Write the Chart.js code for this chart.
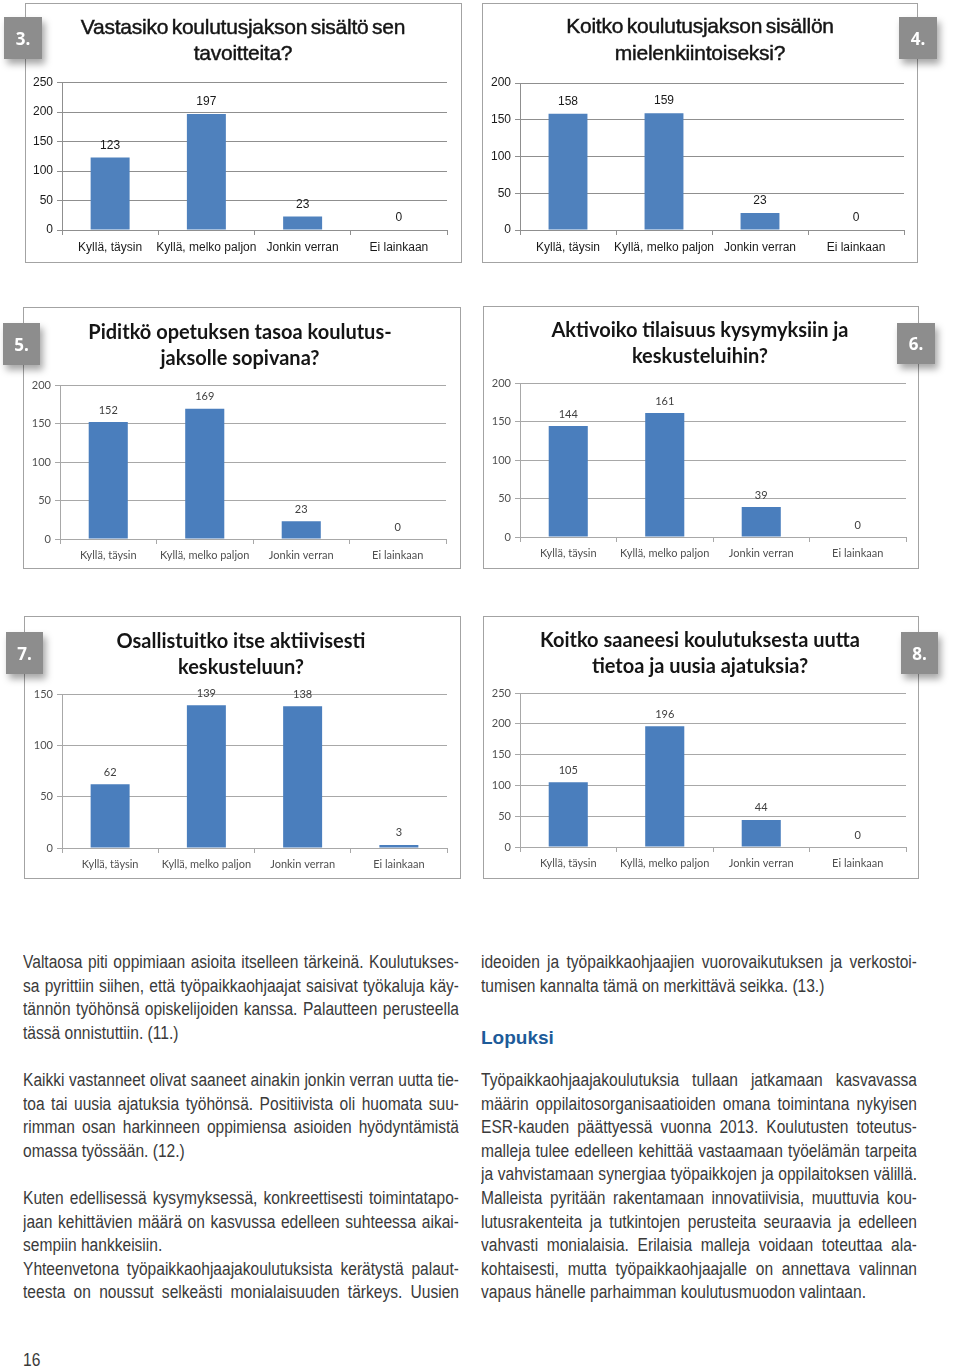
<!DOCTYPE html>
<html>
<head>
<meta charset="utf-8">
<script src="https://cdn.jsdelivr.net/npm/chart.js@4.4.1/dist/chart.umd.min.js"></script>
<style>
  body { margin: 0; background: #fff; width: 960px; height: 1370px; position: relative; overflow: hidden; }
  .box { position: absolute; border: 1px solid #a3a3a3; box-sizing: border-box; background: #fff; }
  .box canvas { position: absolute; left: 0; top: 0; }
  .title { position: absolute; text-align: center; color: #151515; white-space: nowrap; }
  .t1 { font-family: "Liberation Sans", Arial, sans-serif; font-size: 21px; letter-spacing: -0.25px; word-spacing: -2px; -webkit-text-stroke: 0.45px #151515; }
  .t2 { font-family: Lato, "Open Sans", sans-serif; font-weight: 700; font-size: 20px; }
  .badge { position: absolute; background: #8d8d8d; color: #fff; font-family: "Open Sans", sans-serif; font-weight: 700; font-size: 17px;
           display: flex; align-items: center; justify-content: center; box-shadow: 3px 5px 7px rgba(0,0,0,0.35); }
  .col { position: absolute; width: 436px; }
  .inner { transform-origin: 0 0; font-family: "Liberation Sans", sans-serif; font-size: 18px; color: #3a3a3a; line-height: 23.6px; }
  .inner div { height: 23.6px; white-space: nowrap; }
  .inner .j { text-align: justify; text-align-last: justify; white-space: normal; overflow: hidden; }
  .head { position: absolute; font-family: "Liberation Sans", sans-serif; font-weight: 700; font-size: 19px; color: #1d5b99; }
</style>
</head>
<body>

<div class="box" style="left:25px;top:3px;width:437px;height:260px"><canvas id="c3"></canvas></div>
<div class="box" style="left:482px;top:3px;width:436px;height:260px"><canvas id="c4"></canvas></div>
<div class="box" style="left:23px;top:307px;width:438px;height:262px"><canvas id="c5"></canvas></div>
<div class="box" style="left:483px;top:306px;width:436px;height:263px"><canvas id="c6"></canvas></div>
<div class="box" style="left:24px;top:616px;width:437px;height:263px"><canvas id="c7"></canvas></div>
<div class="box" style="left:483px;top:616px;width:436px;height:263px"><canvas id="c8"></canvas></div>

<div class="title t1" style="left:43px;top:14px;width:400px;line-height:26px">Vastasiko koulutusjakson sisältö sen<br>tavoitteita?</div>
<div class="title t1" style="left:500px;top:12px;width:400px;line-height:27px">Koitko koulutusjakson sisällön<br>mielenkiintoiseksi?</div>
<div class="title t2" style="left:40px;top:318px;width:400px;line-height:26px">Piditkö opetuksen tasoa koulutus-<br>jaksolle sopivana?</div>
<div class="title t2" style="left:500px;top:316px;width:400px;line-height:26px">Aktivoiko tilaisuus kysymyksiin ja<br>keskusteluihin?</div>
<div class="title t2" style="left:41px;top:627px;width:400px;line-height:26px">Osallistuitko itse aktiivisesti<br>keskusteluun?</div>
<div class="title t2" style="left:500px;top:626px;width:400px;line-height:26px">Koitko saaneesi koulutuksesta uutta<br>tietoa ja uusia ajatuksia?</div>

<div class="badge" style="left:4px;top:17px;width:38px;height:42px">3.</div>
<div class="badge" style="left:899px;top:17px;width:38px;height:42px">4.</div>
<div class="badge" style="left:3px;top:323px;width:37px;height:42px">5.</div>
<div class="badge" style="left:897px;top:323px;width:38px;height:41px">6.</div>
<div class="badge" style="left:6px;top:632px;width:37px;height:42px">7.</div>
<div class="badge" style="left:901px;top:632px;width:37px;height:42px">8.</div>

<div class="col" style="left:23px;top:951px"><div class="inner">
  <div class="j">Valtaosa piti oppimiaan asioita itselleen tärkeinä. Koulutukses-</div>
  <div class="j">sa pyrittiin siihen, että työpaikkaohjaajat saisivat työkaluja käy-</div>
  <div class="j">tännön työhönsä opiskelijoiden kanssa. Palautteen perusteella</div>
  <div>tässä onnistuttiin. (11.)</div>
  <div></div>
  <div class="j">Kaikki vastanneet olivat saaneet ainakin jonkin verran uutta tie-</div>
  <div class="j">toa tai uusia ajatuksia työhönsä. Positiivista oli huomata suu-</div>
  <div class="j">rimman osan harkinneen oppimiensa asioiden hyödyntämistä</div>
  <div>omassa työssään. (12.)</div>
  <div></div>
  <div class="j">Kuten edellisessä kysymyksessä, konkreettisesti toimintatapo-</div>
  <div class="j">jaan kehittävien määrä on kasvussa edelleen suhteessa aikai-</div>
  <div>sempiin hankkeisiin.</div>
  <div class="j">Yhteenvetona työpaikkaohjaajakoulutuksista kerätystä palaut-</div>
  <div class="j">teesta on noussut selkeästi monialaisuuden tärkeys. Uusien</div>
</div></div>

<div class="col" style="left:481px;top:951px"><div class="inner">
  <div class="j">ideoiden ja työpaikkaohjaajien vuorovaikutuksen ja verkostoi-</div>
  <div>tumisen kannalta tämä on merkittävä seikka. (13.)</div>
</div></div>
<div class="head" style="left:481px;top:1027px">Lopuksi</div>
<div class="col" style="left:481px;top:1069px"><div class="inner">
  <div class="j">Työpaikkaohjaajakoulutuksia tullaan jatkamaan kasvavassa</div>
  <div class="j">määrin oppilaitosorganisaatioiden omana toimintana nykyisen</div>
  <div class="j">ESR-kauden päättyessä vuonna 2013. Koulutusten toteutus-</div>
  <div class="j">malleja tulee edelleen kehittää vastaamaan työelämän tarpeita</div>
  <div class="j">ja vahvistamaan synergiaa työpaikkojen ja oppilaitoksen välillä.</div>
  <div class="j">Malleista pyritään rakentamaan innovatiivisia, muuttuvia kou-</div>
  <div class="j">lutusrakenteita ja tutkintojen perusteita seuraavia ja edelleen</div>
  <div class="j">vahvasti monialaisia. Erilaisia malleja voidaan toteuttaa ala-</div>
  <div class="j">kohtaisesti, mutta työpaikkaohjaajalle on annettava valinnan</div>
  <div>vapaus hänelle parhaimman koulutusmuodon valintaan.</div>
</div></div>

<div class="col" style="left:23px;top:1349px"><div class="inner"><div>16</div></div></div>

<script>
// tekstin tiivistys: kapea kirjasin puuttuu, joten rivit puristetaan vaakasuunnassa
(function() {
    var leveys = 436;
    var mitta = document.createElement('span');
    mitta.style.cssText = 'position:absolute;visibility:hidden;white-space:nowrap;font-family:"Liberation Sans";font-size:18px';
    document.body.appendChild(mitta);
    var maxW = 0;
    document.querySelectorAll('.inner .j').forEach(function(el) {
        mitta.textContent = el.textContent;
        maxW = Math.max(maxW, mitta.offsetWidth);
    });
    mitta.remove();
    var f = Math.min(1, (leveys - 2) / maxW);
    document.querySelectorAll('.inner').forEach(function(el) {
        el.style.width = (leveys / f) + 'px';
        el.style.transform = 'scaleX(' + f + ')';
    });
})();

// vastausvaihtoehdot ja tulokset
const kategoriat = ['Kyllä, täysin', 'Kyllä, melko paljon', 'Jonkin verran', 'Ei lainkaan'];
const tulos3 = [123, 197, 23, 0];
const tulos4 = [158, 159, 23, 0];
const tulos5 = [152, 169, 23, 0];
const tulos6 = [144, 161, 39, 0];
const tulos7 = [62, 139, 138, 3];
const tulos8 = [105, 196, 44, 0];
const yMax3 = 250, yMax4 = 200, yMax5 = 200, yMax6 = 200, yMax7 = 150, yMax8 = 250;
const yAskel = 50;

// arvot pylväiden päälle
const arvoPlugin = {
    id: 'arvot',
    afterDatasetsDraw(chart) {
        const ctx = chart.ctx;
        const meta = chart.getDatasetMeta(0);
        const o = chart.options.plugins.arvot;
        ctx.save();
        ctx.font = o.font;
        ctx.fillStyle = o.color;
        ctx.textAlign = 'center';
        ctx.textBaseline = 'middle';
        meta.data.forEach(function(bar, i) {
            ctx.fillText(chart.data.datasets[0].data[i], bar.x, bar.y - 12);
        });
        ctx.restore();
    }
};

// box = laatikon vasen/ylä/leveys/korkeus, plot = piirtoalueen reunat sivulla
function pylvaskaavio(id, arvot, yMax, box, plot, tyyli) {
    const canvas = document.getElementById(id);
    const w = box[2] - 2, h = box[3] - 2;
    canvas.width = w;
    canvas.height = h;
    const ox = box[0] + 1, oy = box[1] + 1;
    const vasen = plot[0] - ox;
    const oikea = (ox + w) - plot[1];
    const yla = plot[2] - oy;
    const ala = (oy + h) - plot[3];

    new Chart(canvas.getContext('2d'), {
        type: 'bar',
        data: {
            labels: kategoriat,
            datasets: [{
                data: arvot,
                backgroundColor: tyyli.bar,
                borderWidth: 0,
                categoryPercentage: 1,
                barPercentage: 0.405
            }]
        },
        options: {
            responsive: false,
            animation: false,
            layout: { padding: { left: 0, right: oikea, top: yla, bottom: 0 } },
            plugins: {
                legend: { display: false },
                tooltip: { enabled: false },
                arvot: { font: tyyli.valueFont, color: tyyli.valueColor }
            },
            scales: {
                x: {
                    offset: true,
                    grid: { offset: true, drawOnChartArea: false, drawTicks: true, tickLength: 5, color: tyyli.grid },
                    border: { display: true, color: tyyli.grid },
                    ticks: { padding: tyyli.xPad, color: tyyli.tickColor, font: tyyli.tickFont, maxRotation: 0, autoSkip: false },
                    afterFit: function(scale) { scale.height = ala; }
                },
                y: {
                    min: 0,
                    max: yMax,
                    ticks: { stepSize: yAskel, padding: 4, color: tyyli.tickColor, font: tyyli.tickFont },
                    grid: { color: tyyli.grid, tickLength: 5 },
                    border: { display: true, color: tyyli.grid },
                    afterFit: function(scale) { scale.width = vasen; }
                }
            }
        },
        plugins: [arvoPlugin]
    });
}

const excel = {
    bar: '#4f81bd', grid: '#8f8f8f', tickColor: '#1a1a1a',
    tickFont: { family: 'Liberation Sans', size: 12 },
    valueFont: '12px "Liberation Sans"', valueColor: '#1a1a1a', xPad: 5
};
const calibri = {
    bar: '#4a7ebd', grid: '#a8a8a8', tickColor: '#505050',
    tickFont: { family: 'Lato', size: 11 },
    valueFont: '11px Lato', valueColor: '#404040', xPad: 5
};

pylvaskaavio('c3', tulos3, yMax3, [25, 3, 437, 260], [62, 447, 82.7, 230], excel);
pylvaskaavio('c4', tulos4, yMax4, [482, 3, 436, 260], [520, 904, 83, 230], excel);
pylvaskaavio('c5', tulos5, yMax5, [23, 307, 438, 262], [60, 446, 385, 539], calibri);
pylvaskaavio('c6', tulos6, yMax6, [483, 306, 436, 263], [520, 906, 383, 537], calibri);
pylvaskaavio('c7', tulos7, yMax7, [24, 616, 437, 263], [62, 447, 694, 848], calibri);
pylvaskaavio('c8', tulos8, yMax8, [483, 616, 436, 263], [520, 906, 693, 847], calibri);
</script>
</body>
</html>
